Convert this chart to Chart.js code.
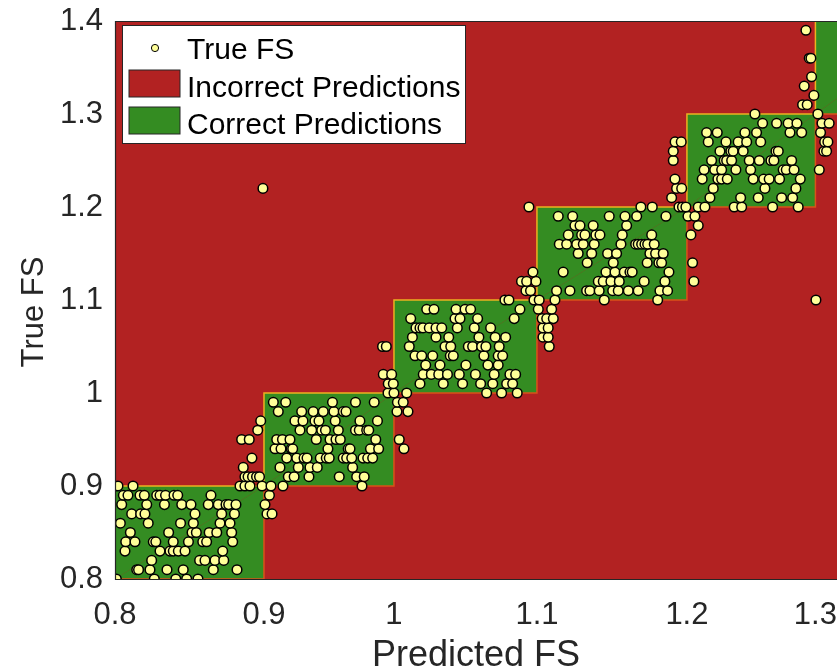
<!DOCTYPE html>
<html><head><meta charset="utf-8">
<script src="https://cdn.jsdelivr.net/npm/chart.js@4.4.1/dist/chart.umd.min.js"></script>
<style>html,body{margin:0;padding:0;background:#fff;overflow:hidden}#wrap{width:837px;height:670px}</style>
</head><body><div id="wrap"><canvas id="c" width="837" height="670"></canvas></div>
<script>
// ---- data ----
const binEdges = [0.8, 0.9, 1.0, 1.1, 1.2, 1.3, 1.4];
const xTickValues = [0.8, 0.9, 1.0, 1.1, 1.2, 1.3];
const xTickLabels = ['0.8', '0.9', '1', '1.1', '1.2', '1.3'];
const yTickLabels = ['0.8', '0.9', '1', '1.1', '1.2', '1.3', '1.4'];
const trueFSRows = [0.80,0.81,0.82,0.83,0.84,0.85,0.86,0.87,0.88,0.89,0.90,0.91,0.92,0.93,0.94,0.95,0.96,0.97,0.98,0.99,
  1.00,1.01,1.02,1.03,1.04,1.05,1.06,1.07,1.08,1.09,1.10,1.11,1.12,1.13,1.14,1.15,1.16,1.17,1.18,1.19,
  1.20,1.21,1.22,1.23,1.24,1.25,1.26,1.27,1.28,1.29,1.30,1.31,1.32,1.33,1.34,1.36,1.39];
const predictedFSRows = [
  [0.8009,0.8264,0.8408,0.8481,0.8557],
  [0.8146,0.8158,0.8235,0.8349,0.8458,0.8660,0.8819],
  [0.8246,0.8568,0.8604,0.8671,0.8730],
  [0.8067,0.8302,0.8369,0.8391,0.8425,0.8470,0.8723],
  [0.8072,0.8134,0.8257,0.8274,0.8391,0.8493,0.8589,0.8615,0.8790],
  [0.8103,0.8360,0.8517,0.8546,0.8632,0.8683,0.8783],
  [0.8036,0.8223,0.8440,0.8526,0.8705,0.8772],
  [0.8112,0.8172,0.8201,0.8537,0.8716,0.8802,0.9023,0.9062],
  [0.8045,0.8213,0.8332,0.8448,0.8510,0.8626,0.8693,0.8745,0.8763,0.8812,0.9008],
  [0.8056,0.8087,0.8168,0.8197,0.8280,0.8302,0.8339,0.8396,0.8421,0.8644,0.9042],
  [0.8020,0.8121,0.8839,0.8872,0.8906,0.8987,0.9054,0.9146,0.9754],
  [0.8872,0.8893,0.8923,0.8950,0.8970,0.9187,0.9232,0.9346,0.9579,0.9713,0.9771],
  [0.8861,0.9123,0.9264,0.9354,0.9410,0.9682],
  [0.8919,0.9175,0.9252,0.9308,0.9331,0.9433,0.9479,0.9502,0.9610,0.9636,0.9675,0.9762,0.9798,0.9836],
  [0.9085,0.9131,0.9210,0.9221,0.9492,0.9648,0.9662,0.9819,0.9882,1.0070],
  [0.8850,0.8901,0.9098,0.9142,0.9200,0.9402,0.9508,0.9554,0.9587,0.9860,1.0037],
  [0.8958,0.9277,0.9367,0.9444,0.9473,0.9572,0.9704,0.9733,0.9790,0.9806],
  [0.8978,0.9238,0.9300,0.9392,0.9423,0.9548,0.9738,0.9873],
  [0.9110,0.9290,0.9379,0.9456,0.9538,0.9610,0.9631,1.0021,1.0098],
  [0.9072,0.9167,0.9527,0.9704,0.9848,1.0024,1.0065],
  [0.9954,1.0000,1.0089,1.0648,1.0753,1.0862],
  [0.9956,0.9995,1.0182,1.0345,1.0480,1.0606,1.0691,1.0788,1.0830],
  [0.9918,0.9982,1.0205,1.0261,1.0313,1.0374,1.0457,1.0570,1.0701,1.0811,1.0851],
  [1.0222,1.0322,1.0503,1.0657,1.0729],
  [1.0147,1.0194,1.0271,1.0394,1.0415,1.0629,1.0729,1.0760],
  [0.9912,0.9941,1.0107,1.0357,1.0397,1.0520,1.0550,1.0613,1.0643,1.0736,1.1082],
  [1.0129,1.0294,1.0383,1.0594,1.0708,1.0781,1.1040,1.1075],
  [1.0154,1.0182,1.0203,1.0247,1.0294,1.0334,1.0443,1.0562,1.0676,1.1040,1.1075],
  [1.0117,1.0427,1.0462,1.0585,1.0841,1.1035,1.1065,1.1109],
  [1.0229,1.0280,1.0434,1.0497,1.0536,1.0881,1.1009,1.1098],
  [1.0776,1.0804,1.0979,1.1015,1.1120,1.1449,1.1805,1.3004],
  [1.0923,1.0955,1.1131,1.1220,1.1331,1.1353,1.1415,1.1505,1.1542,1.1609,1.1675,1.1820,1.1871],
  [1.0892,1.0928,1.0993,1.1409,1.1442,1.1493,1.1549,1.1715,1.1853,1.2054],
  [1.0972,1.1175,1.1460,1.1520,1.1582,1.1620,1.1635,1.1880],
  [1.1335,1.1509,1.1735,1.1813,1.1831,1.2044],
  [1.1275,1.1365,1.1471,1.1531,1.1753,1.1791,1.1842],
  [1.1149,1.1198,1.1265,1.1309,1.1382,1.1560,1.1658,1.1675,1.1698,1.1720,1.1738,1.1782],
  [1.1209,1.1298,1.1320,1.1393,1.1420,1.1569,1.1765,1.2031],
  [1.1253,1.1287,1.1375,1.1598,1.2088],
  [1.1142,1.1238,1.1482,1.1587,1.1665,1.1860,1.2008,1.2062],
  [1.0944,1.1693,1.1769,1.1947,1.1970,1.1993,1.2088,1.2140,1.2368,1.2426,1.2667,1.2866],
  [1.1898,1.2179,1.2418,1.2555,1.2737,1.2823],
  [0.8993,1.1931,1.1965,1.2205,1.2607,1.2848],
  [1.1920,1.2119,1.2241,1.2270,1.2314,1.2516,1.2597,1.2640,1.2721,1.2882],
  [1.2134,1.2216,1.2270,1.2381,1.2496,1.2749,1.2773,1.2834,1.3030],
  [1.1909,1.2192,1.2290,1.2309,1.2348,1.2485,1.2563,1.2654,1.2677,1.2815],
  [1.1909,1.2257,1.2342,1.2360,1.2438,1.2693,1.2711,1.3066,1.3087],
  [1.1921,1.1962,1.2166,1.2304,1.2399,1.2465,1.2574,1.3072,1.3097],
  [1.2153,1.2236,1.2451,1.2542,1.2802,1.2893,1.3040],
  [1.2589,1.2698,1.2788,1.2856,1.3051,1.3107],
  [1.2529,1.3019],
  [1.2900,1.2936],
  [1.2988],
  [1.2913],
  [1.2970],
  [1.2952,1.2965],
  [1.2926]
];

// ---- colours ----
const RED = '#B22222', GREEN = '#348C22', PT = '#FFFF99';
const EDGE_A = '#EDB120', EDGE_B = '#D95319', INK = '#262626';
const FONT = '"Liberation Sans", Arial, sans-serif';

// ---- warped linear scale (non-uniform tick spacing as in the reference) ----
class WarpScale extends Chart.LinearScale {
  buildTicks() { super.buildTicks(); return this.options.warp.ticks.map(v => ({value: v})); }
  _calculatePadding() { this.paddingLeft = 0; this.paddingRight = 0; this.paddingTop = 0; this.paddingBottom = 0; }
  _u(v) {
    const {knots, spans} = this.options.warp;
    const n = knots.length;
    let cum = 0;
    if (v <= knots[0]) return (v - knots[0]) * spans[0] / (knots[1] - knots[0]);
    for (let i = 0; i < n - 1; i++) {
      if (v <= knots[i + 1]) return cum + (v - knots[i]) * spans[i] / (knots[i + 1] - knots[i]);
      cum += spans[i];
    }
    return cum + (v - knots[n - 1]) * spans[n - 2] / (knots[n - 1] - knots[n - 2]);
  }
  _uInv(u) {
    const {knots, spans} = this.options.warp;
    const n = knots.length;
    let cum = 0;
    if (u <= 0) return knots[0] + u * (knots[1] - knots[0]) / spans[0];
    for (let i = 0; i < n - 1; i++) {
      if (u <= cum + spans[i]) return knots[i] + (u - cum) * (knots[i + 1] - knots[i]) / spans[i];
      cum += spans[i];
    }
    return knots[n - 1] + (u - cum) * (knots[n - 1] - knots[n - 2]) / spans[n - 2];
  }
  getPixelForValue(value) {
    if (value === null || value === undefined || isNaN(value)) return NaN;
    const a = this._u(this.min), b = this._u(this.max);
    return this.getPixelForDecimal((this._u(value) - a) / (b - a));
  }
  getValueForPixel(pixel) {
    const a = this._u(this.min), b = this._u(this.max);
    return this._uInv(a + this.getDecimalForPixel(pixel) * (b - a));
  }
}
WarpScale.id = 'warp';
WarpScale.defaults = {};
Chart.register(WarpScale);

// ---- datasets ----
const points = [];
trueFSRows.forEach((t, i) => predictedFSRows[i].forEach(p => points.push({x: p, y: t})));

function rectPts(x0, x1, y0, y1) {
  return [{x: x0, y: y0}, {x: x1, y: y0}, {x: x1, y: y1}, {x: x0, y: y1}, {x: x0, y: y0}];
}
const edgeColor = ctx => (ctx.p0DataIndex < 2 ? EDGE_B : EDGE_A);

const datasets = [
  {label: 'True FS', data: points, backgroundColor: PT, borderColor: '#000', borderWidth: 1.5,
   pointRadius: 4.8, pointHoverRadius: 4.8, showLine: false, order: 0},
  {label: 'Incorrect Predictions', data: rectPts(binEdges[0], binEdges[binEdges.length - 1], binEdges[0], binEdges[binEdges.length - 1]),
   showLine: true, fill: 'shape', backgroundColor: RED, borderColor: RED, borderWidth: 0, pointRadius: 0, order: 3}
];
for (let i = 0; i < binEdges.length - 1; i++) {
  datasets.push({label: 'Correct Predictions', data: rectPts(binEdges[i], binEdges[i + 1], binEdges[i], binEdges[i + 1]),
    showLine: true, fill: 'shape', backgroundColor: GREEN, borderColor: EDGE_A, borderWidth: 1.5,
    segment: {borderColor: edgeColor}, pointRadius: 0, order: 2, tension: 0});
}

// ---- frame, y-title + legend plugins ----
const framePlugin = {
  id: 'frame',
  afterDatasetsDraw(chart) {
    const {ctx, chartArea: a} = chart;
    ctx.save();
    ctx.strokeStyle = INK; ctx.lineWidth = 1.2;
    ctx.beginPath();
    ctx.moveTo(a.right + 2, a.top + 0.5); ctx.lineTo(a.left + 0.5, a.top + 0.5);
    ctx.lineTo(a.left + 0.5, a.bottom + 0.5); ctx.lineTo(a.right + 2, a.bottom + 0.5);
    ctx.stroke();
    ctx.restore();
  }
};
const yTitlePlugin = {
  id: 'yTitle',
  afterDraw(chart) {
    const {ctx, chartArea: a} = chart;
    const t = chart.options.plugins.yTitle;
    ctx.save();
    ctx.translate(a.left - t.dx, (a.top + a.bottom) / 2 + t.dy);
    ctx.rotate(-Math.PI / 2);
    ctx.font = t.size + 'px ' + FONT;
    ctx.fillStyle = INK; ctx.textAlign = 'center'; ctx.textBaseline = 'alphabetic';
    ctx.fillText(t.text, 0, 0);
    ctx.restore();
  }
};
const legendPlugin = {
  id: 'boxLegend',
  afterDraw(chart) {
    const {ctx, chartArea: a} = chart;
    const ds = chart.data.datasets;
    const x0 = a.left + 7.5, y0 = a.top + 4.5, w = 343, h = 118;
    ctx.save();
    ctx.fillStyle = '#fff'; ctx.fillRect(x0, y0, w, h);
    ctx.strokeStyle = INK; ctx.lineWidth = 1; ctx.strokeRect(x0, y0, w, h);
    ctx.font = '30px ' + FONT;
    ctx.textBaseline = 'alphabetic'; ctx.textAlign = 'left';
    const tx = x0 + 64.5;
    const base = [y0 + 33.5, y0 + 71, y0 + 108];
    ctx.beginPath(); ctx.arc(x0 + 32.5, y0 + 22.5, 3.6, 0, Math.PI * 2);
    ctx.fillStyle = ds[0].backgroundColor; ctx.fill();
    ctx.strokeStyle = '#000'; ctx.lineWidth = 1; ctx.stroke();
    ctx.fillStyle = '#000'; ctx.fillText(ds[0].label, tx, base[0]);
    const items = [ds[1], ds[2]];
    items.forEach((d, k) => {
      const ry = y0 + 44.5 + k * 37;
      ctx.fillStyle = d.backgroundColor; ctx.fillRect(x0 + 6.5, ry, 51, 27);
      ctx.strokeStyle = INK; ctx.lineWidth = 1; ctx.strokeRect(x0 + 6.5, ry, 51, 27);
      ctx.fillStyle = '#000'; ctx.fillText(d.label, tx, base[k + 1]);
    });
    ctx.restore();
  }
};

new Chart(document.getElementById('c'), {
  type: 'scatter',
  data: {datasets},
  plugins: [framePlugin, yTitlePlugin, legendPlugin],
  options: {
    responsive: false, animation: false, devicePixelRatio: 1,
    layout: {autoPadding: false, padding: {top: 21, right: 0, left: 0, bottom: 0}},
    plugins: {legend: {display: false}, tooltip: {enabled: false},
              yTitle: {text: 'True FS', size: 31, dx: 72, dy: 12}},
    scales: {
      x: {
        type: 'warp', min: 0.8, max: 1.3168,
        warp: {ticks: xTickValues, knots: [0.8, 0.9, 1.0, 1.1, 1.2, 1.3], spans: [149, 130, 143, 150, 128.5]},
        grid: {display: false, drawTicks: false},
        border: {display: false},
        ticks: {color: INK, font: {family: FONT, size: 31}, padding: 18, maxRotation: 0, autoSkip: false,
                callback: (v, i) => xTickLabels[i]},
        title: {display: true, text: 'Predicted FS', color: INK, font: {family: FONT, size: 36}, padding: {top: 6, bottom: -8}},
        afterFit: s => { s.height = 91; s.paddingLeft = 0; s.paddingRight = 0; }
      },
      y: {
        type: 'linear', min: 0.8, max: 1.4,
        grid: {display: false, drawTicks: false},
        border: {display: false},
        ticks: {stepSize: 0.1, color: INK, font: {family: FONT, size: 31}, padding: 12,
                callback: (v, i) => yTickLabels[i]},
        afterFit: s => { s.width = 115; s.paddingTop = 0; s.paddingBottom = 0; }
      }
    }
  }
});
</script></body></html>
